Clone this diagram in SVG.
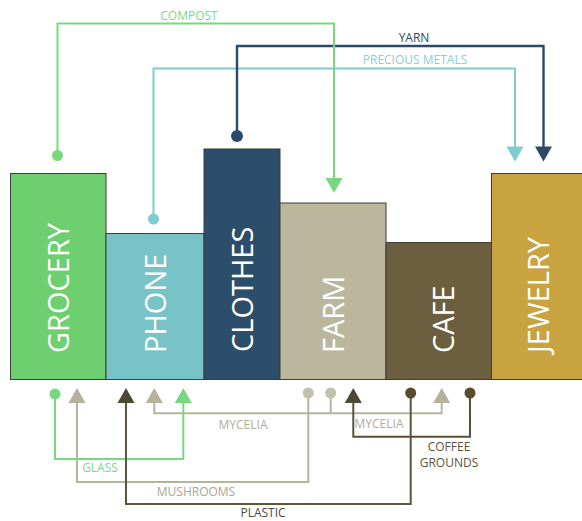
<svg xmlns="http://www.w3.org/2000/svg" xmlns:xlink="http://www.w3.org/1999/xlink" width="582" height="521" viewBox="0 0 582 521">
<style>
.bar{stroke:#3d3d3a;stroke-width:1}
.blabel{font-family:"Open Sans","Liberation Sans",sans-serif;font-size:29px;fill:#ffffff;font-weight:400}
.lbl{font-family:"Open Sans","Liberation Sans",sans-serif;font-size:12px;text-anchor:middle}
.ln{fill:none;stroke-width:2}
.green{stroke:#76d97f}.greenf{fill:#76d97f}
.teal{stroke:#7fcbd0}.tealf{fill:#7fcbd0}
.navy{stroke:#2b4a67;stroke-width:2.4}.navyf{fill:#2b4a67}
.beige{stroke:#b7b49e}.beigef{fill:#b5b29b}
.lbeigef{fill:#c3c0ab}
.olive{stroke:#5a5636}.olivef{fill:#4c4a31}
.brown{stroke:#5b5132}.brownf{fill:#574c2c}
</style>
<defs>
<path id="arrUp" d="M0,-7.5 L8.5,7.5 L-8.5,7.5 Z"/>
<path id="arrDown" d="M0,7.5 L8.5,-7.5 L-8.5,-7.5 Z"/>
</defs>
<rect width="582" height="521" fill="#ffffff"/>

<g id="connectors">
  <!-- top -->
  <path class="ln teal" d="M153.5,219 V68.5 H515 V150"/>
  <path class="ln navy" d="M237,136 V46 H543.5 V150"/>
  <path class="ln green" d="M57.5,155 V23.5 H334 V180"/>
  <circle class="greenf" cx="57.5" cy="155.5" r="5.5"/>
  <circle class="tealf" cx="153.5" cy="219" r="5.5"/>
  <circle class="navyf" cx="237" cy="136" r="6"/>
  <use xlink:href="#arrDown" href="#arrDown" class="greenf" x="334" y="185.5"/>
  <use xlink:href="#arrDown" href="#arrDown" class="tealf" x="515" y="154"/>
  <use xlink:href="#arrDown" href="#arrDown" class="navyf" x="543.5" y="154"/>
  <text class="lbl" x="189" y="19.5" fill="#7ada83">COMPOST</text>
  <text class="lbl" x="414" y="42" fill="#2b4a67">YARN</text>
  <text class="lbl" x="415" y="63.5" fill="#8ccfd2">PRECIOUS METALS</text>

  <!-- bottom -->
  <path class="ln beige" d="M154.3,400 V413.3 H441.7 V400 M330.7,393 V413.3"/>
  <path class="ln beige" d="M77,400 V482 H308.3 V393"/>
  <path class="ln green" d="M55,394 V459 H183.3 V400"/>
  <path class="ln olive" d="M126,400 V504 H410.7 V393"/>
  <path class="ln brown" d="M470,393 V436.7 H353.3 V400"/>
  <circle class="greenf" cx="55" cy="394" r="5.5"/>
  <circle class="lbeigef" cx="308.3" cy="393" r="5.5"/>
  <circle class="lbeigef" cx="330.7" cy="393" r="5.5"/>
  <circle class="brownf" cx="410.7" cy="393" r="5.5"/>
  <circle class="brownf" cx="470" cy="393" r="5.5"/>
  <use xlink:href="#arrUp" href="#arrUp" class="beigef" x="77" y="395.5"/>
  <use xlink:href="#arrUp" href="#arrUp" class="olivef" x="126" y="395.5"/>
  <use xlink:href="#arrUp" href="#arrUp" class="beigef" x="154.3" y="395.5"/>
  <use xlink:href="#arrUp" href="#arrUp" class="greenf" x="183.3" y="395.5"/>
  <use xlink:href="#arrUp" href="#arrUp" class="olivef" x="353.3" y="395.5"/>
  <use xlink:href="#arrUp" href="#arrUp" class="beigef" x="441.7" y="395.5"/>
  <text class="lbl" x="243" y="428.5" fill="#b0ad98">MYCELIA</text>
  <text class="lbl" x="379" y="428" fill="#b0ad98">MYCELIA</text>
  <text class="lbl" x="100" y="471.5" fill="#7ada83">GLASS</text>
  <text class="lbl" x="196" y="496" fill="#a9a690">MUSHROOMS</text>
  <text class="lbl" x="263" y="517" fill="#4a4a3a">PLASTIC</text>
  <text class="lbl" x="449" y="451" fill="#5a5440">COFFEE</text>
  <text class="lbl" x="449" y="467" fill="#5a5440">GROUNDS</text>
</g>

<g id="grocery">
  <rect class="bar" x="10.5" y="173.5" width="95.5" height="206" fill="#6dcf70"/>
  <text class="blabel" transform="translate(69,353) rotate(-90)">GROCERY</text>
</g>
<g id="phone">
  <rect class="bar" x="106" y="233.5" width="98" height="146" fill="#78c3c8"/>
  <text class="blabel" transform="translate(166,353) rotate(-90)">PHONE</text>
</g>
<g id="clothes">
  <rect class="bar" x="204" y="149" width="76" height="230.5" fill="#2c4e6b"/>
  <text class="blabel" transform="translate(253,352) rotate(-90)">CLOTHES</text>
</g>
<g id="farm">
  <rect class="bar" x="280" y="203" width="106" height="176.5" fill="#bab79d"/>
  <text class="blabel" transform="translate(343.5,353) rotate(-90)">FARM</text>
</g>
<g id="cafe">
  <rect class="bar" x="386" y="242.5" width="105.5" height="137" fill="#6c5f40"/>
  <text class="blabel" transform="translate(454,353) rotate(-90)">CAFE</text>
</g>
<g id="jewelry">
  <rect class="bar" x="491.5" y="173.5" width="92" height="206" fill="#c9a340"/>
  <text class="blabel" transform="translate(549,353) rotate(-90)">JEWELRY</text>
</g>
</svg>
